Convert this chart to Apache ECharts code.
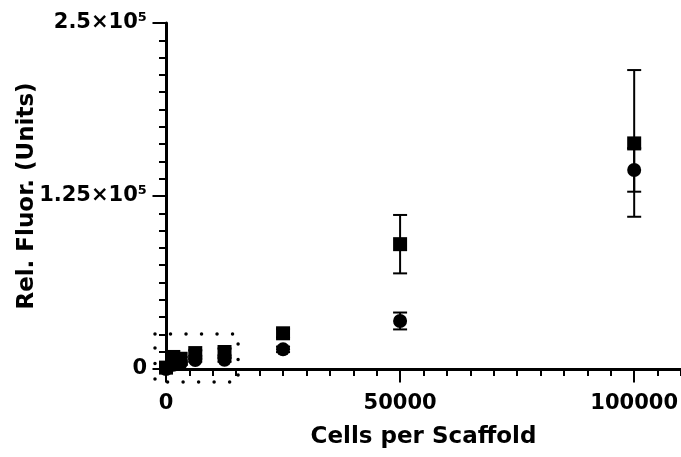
<!DOCTYPE html>
<html>
<head>
<meta charset="utf-8">
<script src="https://cdn.jsdelivr.net/npm/echarts@6/dist/echarts.min.js"></script>
<style>
  html, body { margin: 0; padding: 0; background: #fff; }
  #chart { width: 681px; height: 457px; }
</style>
</head>
<body>
<div id="chart"></div>
<script>
// Cell seeding densities (x) and fluorescence readings for the two scaffold groups
const cellsPerScaffold = [0, 1562, 3125, 6250, 12500, 25000, 50000, 100000];
const squareMean = [1000, 8700, 7400, 11500, 12300, 25800, 90200, 163000];
const squareSD   = [500, 1500, 1200, 2000, 2500, 3000, 21100, 53000];
const circleMean = [0, 3000, 4000, 6500, 6700, 14200, 34700, 143800];
const circleSD   = [300, 800, 900, 1200, 1500, 2000, 6100, 15700];

// Axis ticks and their printed labels
const yTickValues = [0, 125000, 250000];
const yTickLabels = ['0', '1.25×10⁵', '2.5×10⁵'];
const xTickValues = [0, 50000, 100000];
const xTickLabels = ['0', '50000', '100000'];

// Low-density region outlined with a dotted box: x0, y0, x1, y1 in data units
const insetRegion = [-2350, -9400, 15400, 25300];

const FONT = 'DejaVu Sans';
const black = '#000';

const chart = echarts.init(document.getElementById('chart'), null, { renderer: 'canvas' });

function errorBarItem(params, api) {
  const x = api.value(0);
  const pLo = api.coord([x, api.value(1)]);
  const pHi = api.coord([x, api.value(2)]);
  const half = 7;
  const style = { stroke: black, lineWidth: 2, fill: null };
  return {
    type: 'group',
    children: [
      { type: 'line', shape: { x1: pHi[0], y1: pHi[1], x2: pLo[0], y2: pLo[1] }, style },
      { type: 'line', shape: { x1: pHi[0] - half, y1: pHi[1], x2: pHi[0] + half, y2: pHi[1] }, style },
      { type: 'line', shape: { x1: pLo[0] - half, y1: pLo[1], x2: pLo[0] + half, y2: pLo[1] }, style }
    ]
  };
}

function dottedBoxItem(params, api) {
  const p0 = api.coord([api.value(0), api.value(3)]);
  const p1 = api.coord([api.value(2), api.value(1)]);
  return {
    type: 'rect',
    shape: { x: p0[0], y: p0[1], width: p1[0] - p0[0], height: p1[1] - p0[1] },
    style: { fill: null, stroke: black, lineWidth: 3.5, lineDash: [0.01, 15.5], lineCap: 'round' }
  };
}

const squareBars = cellsPerScaffold.map((c, i) => [c, squareMean[i] - squareSD[i], squareMean[i] + squareSD[i]]);
const circleBars = cellsPerScaffold.map((c, i) => [c, circleMean[i] - circleSD[i], circleMean[i] + circleSD[i]]);
const squarePts = cellsPerScaffold.map((c, i) => [c, squareMean[i]]);
const circlePts = cellsPerScaffold.map((c, i) => [c, circleMean[i]]);

const gridBox = { left: 166, right: 0, top: 23, bottom: 88, outerBoundsMode: 'none' };
const tickLine = { color: black, width: 2 };
const titleStyle = { color: black, fontFamily: FONT, fontWeight: 'bold', fontSize: 23 };
const labelStyle = { color: black, fontFamily: FONT, fontWeight: 'bold', fontSize: 21 };
const solidMark = { color: black, opacity: 1 };

chart.setOption({
  animation: false,
  backgroundColor: '#fff',
  grid: [Object.assign({}, gridBox), Object.assign({}, gridBox)],
  xAxis: [
    {
      // data axis: line and short ticks every 5000
      type: 'value', gridIndex: 0, min: 0, max: 110000, interval: 5000,
      axisLine: { show: true, lineStyle: { color: black, width: 3 } },
      axisTick: { show: true, length: 7, lineStyle: tickLine },
      axisLabel: { show: false },
      splitLine: { show: false }
    },
    {
      // long ticks, numbers and title
      type: 'value', gridIndex: 1, min: 0, max: 110000,
      axisLine: { show: false },
      axisTick: { show: true, length: 13.5, customValues: xTickValues, lineStyle: tickLine },
      axisLabel: Object.assign({
        customValues: xTickValues,
        margin: 24,
        formatter: v => { const k = xTickValues.indexOf(v); return k >= 0 ? xTickLabels[k] : ''; }
      }, labelStyle),
      splitLine: { show: false },
      name: 'Cells per Scaffold', nameLocation: 'middle', nameGap: 57, nameMoveOverlap: false,
      nameTextStyle: titleStyle
    }
  ],
  yAxis: [
    {
      type: 'value', gridIndex: 0, min: 0, max: 250000, interval: 125000,
      axisLine: { show: true, lineStyle: { color: black, width: 3 } },
      axisTick: { show: true, length: 13.5, lineStyle: tickLine },
      minorTick: { show: true, splitNumber: 10, length: 7, lineStyle: tickLine },
      splitLine: { show: false },
      axisLabel: Object.assign({
        margin: 19,
        formatter: v => { const k = yTickValues.indexOf(v); return k >= 0 ? yTickLabels[k] : ''; }
      }, labelStyle),
      name: 'Rel. Fluor. (Units)', nameLocation: 'middle', nameGap: 127, nameRotate: 90,
      nameMoveOverlap: false,
      nameTextStyle: titleStyle
    },
    { type: 'value', gridIndex: 1, min: 0, max: 250000, show: false }
  ],
  series: [
    {
      type: 'custom', name: 'inset', xAxisIndex: 0, yAxisIndex: 0, clip: false, silent: true,
      encode: { x: [0, 2], y: [1, 3] },
      renderItem: dottedBoxItem, data: [insetRegion], z: 1
    },
    {
      type: 'custom', name: 'square SD', xAxisIndex: 0, yAxisIndex: 0, clip: false,
      encode: { x: 0, y: [1, 2] }, renderItem: errorBarItem, data: squareBars, z: 2
    },
    {
      type: 'custom', name: 'circle SD', xAxisIndex: 0, yAxisIndex: 0, clip: false,
      encode: { x: 0, y: [1, 2] }, renderItem: errorBarItem, data: circleBars, z: 2
    },
    {
      type: 'scatter', name: 'circle', xAxisIndex: 0, yAxisIndex: 0, clip: false,
      symbol: 'circle', symbolSize: 14, itemStyle: solidMark, data: circlePts, z: 3
    },
    {
      type: 'scatter', name: 'square', xAxisIndex: 0, yAxisIndex: 0, clip: false,
      symbol: 'rect', symbolSize: 14, itemStyle: solidMark, data: squarePts, z: 3
    }
  ]
});
</script>
</body>
</html>
